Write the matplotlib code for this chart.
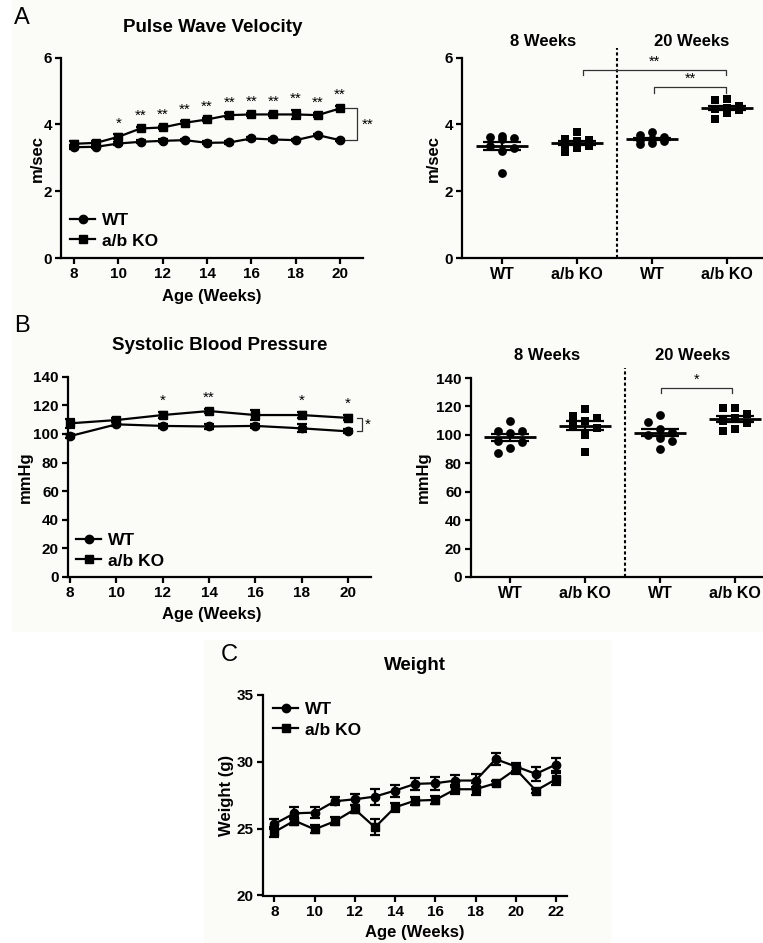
import numpy as np
import matplotlib
matplotlib.use("Agg")
import matplotlib.pyplot as plt
from matplotlib.lines import Line2D
from matplotlib.patches import Rectangle

# ---------------- data ----------------
pwv_weeks = [8, 9, 10, 11, 12, 13, 14, 15, 16, 17, 18, 19, 20]
pwv_wt = [3.32, 3.33, 3.43, 3.48, 3.51, 3.53, 3.45, 3.46, 3.58, 3.55, 3.53, 3.68, 3.53]
pwv_wt_sem = [0.05, 0.04, 0.04, 0.04, 0.04, 0.04, 0.04, 0.04, 0.04, 0.04, 0.04, 0.04, 0.04]
pwv_ko = [3.42, 3.45, 3.63, 3.88, 3.91, 4.05, 4.15, 4.28, 4.30, 4.30, 4.30, 4.28, 4.48]
pwv_ko_sem = [0.09, 0.05, 0.07, 0.05, 0.05, 0.05, 0.05, 0.05, 0.05, 0.05, 0.13, 0.05, 0.06]
pwv_stars = ["", "", "*", "**", "**", "**", "**", "**", "**", "**", "**", "**", "**"]

sbp_weeks = [8, 10, 12, 14, 16, 18, 20]
sbp_wt = [98.5, 106.7, 105.6, 105.2, 105.6, 103.9, 101.8]
sbp_wt_sem = [1.5, 1.5, 1.5, 1.5, 1.5, 2.8, 1.5]
sbp_ko = [107.4, 109.7, 113.2, 116.0, 113.2, 113.2, 111.2]
sbp_ko_sem = [3.0, 1.5, 2.2, 1.5, 3.2, 2.0, 1.8]
sbp_stars = ["", "", "*", "**", "", "*", "*"]

wt_weeks = [8, 9, 10, 11, 12, 13, 14, 15, 16, 17, 18, 19, 20, 21, 22]
weight_wt = [25.35, 26.15, 26.2, 27.05, 27.2, 27.4, 27.85, 28.35, 28.4, 28.6, 28.6, 30.2, 29.65, 29.1, 29.8]
weight_wt_sem = [0.35, 0.45, 0.4, 0.3, 0.4, 0.6, 0.45, 0.45, 0.5, 0.45, 0.5, 0.45, 0.3, 0.5, 0.5]
weight_ko = [24.75, 25.6, 24.95, 25.55, 26.45, 25.1, 26.6, 27.1, 27.15, 27.95, 27.95, 28.4, 29.45, 27.85, 28.7]
weight_ko_sem = [0.4, 0.3, 0.3, 0.3, 0.3, 0.6, 0.35, 0.3, 0.3, 0.35, 0.45, 0.15, 0.35, 0.15, 0.45]

groups = ["WT", "a/b KO", "WT", "a/b KO"]
pwv_8wk_wt = [3.65, 3.62, 3.60, 3.55, 3.35, 3.30, 3.20, 2.56]
pwv_8wk_ko = [3.76, 3.55, 3.54, 3.50, 3.42, 3.34, 3.29, 3.19]
pwv_20wk_wt = [3.77, 3.68, 3.62, 3.57, 3.53, 3.50, 3.45, 3.42]
pwv_20wk_ko = [4.76, 4.74, 4.55, 4.50, 4.47, 4.42, 4.35, 4.15]

sbp_8wk_wt = [110, 103, 103, 101, 96, 95, 91, 87]
sbp_8wk_ko = [118, 113, 112, 110, 106, 105, 100, 88]
sbp_20wk_wt = [114, 109, 104, 102, 100, 98, 96, 90]
sbp_20wk_ko = [119, 119, 115, 112, 110, 108, 104, 103]

# ---------------- style ----------------
plt.rcParams["font.family"] = ["Liberation Sans", "DejaVu Sans"]
plt.rcParams["font.weight"] = "bold"
LW = 1.6
W, H = 763, 943

fig = plt.figure(figsize=(W / 100, H / 100), dpi=100)
fig.patch.set_facecolor("white")
fig.patches.append(Rectangle((12 / W, 1 - 632 / H), 1, 632 / H, transform=fig.transFigure,
                             facecolor="#fbfbf7", edgecolor="none", zorder=-10))
fig.patches.append(Rectangle((204 / W, 0), 407 / W, 1 - 640 / H, transform=fig.transFigure,
                             facecolor="#fbfbf7", edgecolor="none", zorder=-10))


def rect(l, t, r, b):
    return [l / W, 1 - b / H, (r - l) / W, (b - t) / H]


def ftext(x, y, s, **kw):
    fig.text(x / W, 1 - y / H, s, ha="center", va="center", **kw)


def style_axes(ax, labelsize=11):
    for s in ("top", "right"):
        ax.spines[s].set_visible(False)
    for s in ("left", "bottom"):
        ax.spines[s].set_linewidth(LW)
    ax.tick_params(direction="out", length=4, width=LW, labelsize=labelsize, pad=2.5)
    ax.patch.set_alpha(0)


def line_panel(ax, weeks, wt, wt_sem, ko, ko_sem):
    ax.errorbar(weeks, wt, yerr=wt_sem, fmt="-o", color="k", ms=6, lw=LW,
                elinewidth=LW, capsize=3.5, capthick=LW, clip_on=False, zorder=3)
    ax.errorbar(weeks, ko, yerr=ko_sem, fmt="-s", color="k", ms=5.5, lw=LW,
                elinewidth=LW, capsize=3.5, capthick=LW, clip_on=False, zorder=3)


def legend(ax, x, y):
    handles = [Line2D([0], [0], color="k", lw=LW, marker="o", ms=6),
               Line2D([0], [0], color="k", lw=LW, marker="s", ms=5.5)]
    ax.legend(handles, ["WT", "a/b KO"], loc="upper left", bbox_to_anchor=(x / W, 1 - y / H),
              bbox_transform=fig.transFigure, frameon=False, fontsize=12.5, handlelength=1.45,
              handletextpad=0.4, labelspacing=0.3, borderpad=0, borderaxespad=0)


def stars(ax, xs, ys, sems, labels):
    for x, y, e, s in zip(xs, ys, sems, labels):
        if s:
            ax.annotate(s, (x, y + e), xytext=(0, 3), textcoords="offset points", ha="center",
                        va="bottom", fontsize=11, fontweight="normal", annotation_clip=False)


def swarm(ax, x0, vals, d):
    """Column-scatter layout: up to three columns, avoid overlap where possible."""
    pts = ax.transData.transform(np.column_stack([np.full(len(vals), x0), vals]))
    ys = pts[:, 1]
    order = np.argsort(-np.asarray(vals))
    placed = []
    xo = np.zeros(len(vals))
    for idx in order:
        best, best_gap = 0.0, -1.0
        for k in [0, -1, 1]:
            cand = k * d
            gap = min([np.hypot(cand - px, ys[idx] - py) for px, py in placed] or [1e9])
            if gap >= 0.85 * d:
                best = cand
                break
            if gap > best_gap:
                best, best_gap = cand, gap
        placed.append((best, ys[idx]))
        xo[idx] = best
    ppu = ax.transData.transform((1, 0))[0] - ax.transData.transform((0, 0))[0]
    return xo / ppu


def scatter_panel(ax, datasets):
    markers = ["o", "s", "o", "s"]
    for i, (vals, m) in enumerate(zip(datasets, markers)):
        off = swarm(ax, i, vals, 12)
        ax.scatter(np.full(len(vals), i) + off, vals, marker=m, s=40 if m == "o" else 38,
                   color="k", zorder=3, clip_on=False, linewidths=0)
        mean = np.mean(vals)
        sem = np.std(vals, ddof=1) / np.sqrt(len(vals))
        ax.hlines(mean, i - 0.35, i + 0.35, color="k", lw=2, zorder=4)
        ax.errorbar(i, mean, yerr=sem, color="k", capsize=14, elinewidth=LW, capthick=LW, zorder=4)
    ax.set_xticks(range(len(groups)))
    ax.set_xticklabels(groups, fontsize=11.5)
    ax.axvline(1.53, ymin=0, ymax=1.05, color="k", lw=1.5, ls=(0, (1.5, 1.2)), clip_on=False)


def bracket(ax, x1, x2, y, leg, s):
    ax.plot([x1, x1, x2, x2], [y - leg, y, y, y - leg], color="#333333", lw=0.9, clip_on=False)
    ax.annotate(s, ((x1 + x2) / 2, y), xytext=(0, 1), textcoords="offset points", ha="center",
                va="bottom", fontsize=10.5, fontweight="normal", annotation_clip=False)


# ---------------- Panel A left ----------------
axA = fig.add_axes(rect(61, 57.7, 363, 258))
line_panel(axA, pwv_weeks, pwv_wt, pwv_wt_sem, pwv_ko, pwv_ko_sem)
axA.set_xlim(7.41, 21.04)
axA.set_ylim(0, 6)
axA.set_xticks([8, 10, 12, 14, 16, 18, 20])
axA.set_yticks([0, 2, 4, 6])
style_axes(axA)
stars(axA, pwv_weeks, pwv_ko, pwv_ko_sem, pwv_stars)
axA.plot([20.23, 20.77, 20.77, 20.23], [pwv_ko[-1], pwv_ko[-1], pwv_wt[-1], pwv_wt[-1]],
         color="#333333", lw=0.9, clip_on=False)
axA.text(21.25, (pwv_ko[-1] + pwv_wt[-1]) / 2, "**", ha="center", va="center", fontsize=11,
         fontweight="normal")
legend(axA, 70, 213)
ftext(22, 18, "A", fontsize=17, fontweight="normal")
ftext(213, 27, "Pulse Wave Velocity", fontsize=13.5)
ftext(37, 158, "m/sec", fontsize=12, rotation=90)
ftext(212, 296, "Age (Weeks)", fontsize=12)

# ---------------- Panel A right ----------------
axA2 = fig.add_axes(rect(462, 57.7, 763, 258))
axA2.set_xlim(-0.533, 3.48)
axA2.set_ylim(0, 6)
axA2.set_yticks([0, 2, 4, 6])
style_axes(axA2)
scatter_panel(axA2, [pwv_8wk_wt, pwv_8wk_ko, pwv_20wk_wt, pwv_20wk_ko])
bracket(axA2, 1.08, 2.99, 5.63, 0.16, "**")
bracket(axA2, 2.03, 2.99, 5.11, 0.18, "**")
ftext(433, 158, "m/sec", fontsize=12, rotation=90)
ftext(543, 42, "8 Weeks", fontsize=12)
ftext(692, 42, "20 Weeks", fontsize=12)

# ---------------- Panel B left ----------------
axB = fig.add_axes(rect(68, 376.7, 371, 577))
line_panel(axB, sbp_weeks, sbp_wt, sbp_wt_sem, sbp_ko, sbp_ko_sem)
axB.set_xlim(7.91, 20.99)
axB.set_ylim(0, 140)
axB.set_xticks([8, 10, 12, 14, 16, 18, 20])
axB.set_yticks(range(0, 141, 20))
style_axes(axB)
stars(axB, sbp_weeks, sbp_ko, sbp_ko_sem, sbp_stars)
axB.plot([20.39, 20.6, 20.6, 20.39], [sbp_ko[-1], sbp_ko[-1], sbp_wt[-1], sbp_wt[-1]],
         color="#333333", lw=0.9, clip_on=False)
axB.text(20.86, (sbp_ko[-1] + sbp_wt[-1]) / 2, "*", ha="center", va="center", fontsize=11,
         fontweight="normal")
legend(axB, 76, 533)
ftext(22, 326, "B", fontsize=17, fontweight="normal")
ftext(220, 345, "Systolic Blood Pressure", fontsize=13.5)
ftext(25, 477, "mmHg", fontsize=12, rotation=90)
ftext(212, 615, "Age (Weeks)", fontsize=12)

# ---------------- Panel B right ----------------
axB2 = fig.add_axes(rect(471, 378, 763, 577))
axB2.set_xlim(-0.52, 3.37)
axB2.set_ylim(0, 140)
axB2.set_yticks(range(0, 141, 20))
style_axes(axB2)
scatter_panel(axB2, [sbp_8wk_wt, sbp_8wk_ko, sbp_20wk_wt, sbp_20wk_ko])
bracket(axB2, 2.01, 2.96, 132.9, 3.8, "*")
ftext(423, 477, "mmHg", fontsize=12, rotation=90)
ftext(547, 356, "8 Weeks", fontsize=12)
ftext(693, 356, "20 Weeks", fontsize=12)

# ---------------- Panel C ----------------
axC = fig.add_axes(rect(262.7, 695, 566.7, 895.5))
line_panel(axC, wt_weeks, weight_wt, weight_wt_sem, weight_ko, weight_ko_sem)
axC.set_xlim(7.42, 22.53)
axC.set_ylim(20, 35)
axC.set_xticks(range(8, 23, 2))
axC.set_yticks([20, 25, 30, 35])
style_axes(axC)
legend(axC, 273, 702)
ftext(229, 655, "C", fontsize=17, fontweight="normal")
ftext(415, 665, "Weight", fontsize=13.5)
ftext(227, 795, "Weight (g)", fontsize=12, rotation=90)
ftext(415, 933, "Age (Weeks)", fontsize=12)

fig.savefig("out.png", dpi=100, facecolor=fig.get_facecolor())
